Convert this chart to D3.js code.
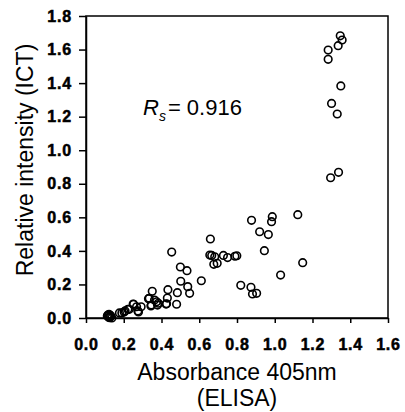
<!DOCTYPE html>
<html>
<head>
<meta charset="utf-8">
<script src="https://cdn.jsdelivr.net/npm/d3@7"></script>
<style>
  body { margin: 0; background: #fff; }
  text { font-family: "Liberation Sans", Arial, sans-serif; }
</style>
</head>
<body>
<div id="chart"></div>
<script>
// absorbance (ELISA) vs relative intensity (ICT)
const elisa = [
  0.113, 0.122, 0.131, 0.137, 0.12, 0.128, 0.116, 0.125,
  0.177, 0.19, 0.202, 0.207, 0.222, 0.229, 0.25, 0.252, 0.268, 0.275, 0.278, 0.292,
  0.331, 0.335, 0.344, 0.346, 0.351, 0.363, 0.374, 0.379, 0.383,
  0.424, 0.427, 0.431, 0.434, 0.454, 0.48, 0.484,
  0.5, 0.502, 0.535, 0.539, 0.549, 0.611,
  0.656, 0.659, 0.666, 0.677, 0.682, 0.695, 0.728, 0.75, 0.789, 0.799,
  0.82, 0.874, 0.877, 0.882, 0.904, 0.92, 0.945, 0.966, 0.983, 0.987,
  1.031, 1.122, 1.148, 1.296, 1.338,
  1.283, 1.283, 1.301, 1.331, 1.336, 1.347, 1.35, 1.357
];
const ict = [
  0.012, 0.022, 0.014, 0.0, 0.005, 0.008, 0.018, 0.002,
  0.03, 0.03, 0.036, 0.042, 0.052, 0.052, 0.083, 0.082, 0.067, 0.042, 0.036, 0.067,
  0.115, 0.117, 0.072, 0.077, 0.159, 0.107, 0.097, 0.077, 0.088,
  0.083, 0.085, 0.119, 0.169, 0.393, 0.082, 0.151,
  0.304, 0.219, 0.282, 0.187, 0.147, 0.222,
  0.375, 0.471, 0.373, 0.32, 0.365, 0.326, 0.373, 0.36, 0.368, 0.371,
  0.195, 0.183, 0.582, 0.143, 0.147, 0.514, 0.401, 0.497, 0.574, 0.604,
  0.256, 0.616, 0.33, 0.836, 0.868,
  1.597, 1.542, 1.279, 1.216, 1.623, 1.682, 1.383, 1.657
];
const xTicks = [0, 0.2, 0.4, 0.6, 0.8, 1.0, 1.2, 1.4, 1.6];
const yTicks = [0, 0.2, 0.4, 0.6, 0.8, 1.0, 1.2, 1.4, 1.6, 1.8];

const points = elisa.map((v, i) => ({ x: v, y: ict[i] }));

let dimensions = {
  width: 405,
  height: 412,
  margin: { top: 16, right: 17, bottom: 94, left: 86 }
};
dimensions.ctrWidth = dimensions.width - dimensions.margin.left - dimensions.margin.right;
dimensions.ctrHeight = dimensions.height - dimensions.margin.top - dimensions.margin.bottom;

const svg = d3.select('#chart')
  .append('svg')
  .attr('width', dimensions.width)
  .attr('height', dimensions.height);

const ctr = svg.append('g')
  .attr('transform', `translate(${dimensions.margin.left}, ${dimensions.margin.top})`);

const xScale = d3.scaleLinear().domain([0, 1.6]).range([0, dimensions.ctrWidth]);
const yScale = d3.scaleLinear().domain([0, 1.8]).range([dimensions.ctrHeight, 0]);

// frame
ctr.append('rect')
  .attr('width', dimensions.ctrWidth)
  .attr('height', dimensions.ctrHeight)
  .attr('fill', 'none')
  .attr('stroke', '#000')
  .attr('stroke-width', 1.5);

const xAxis = ctr.append('g')
  .attr('transform', `translate(0, ${dimensions.ctrHeight})`)
  .call(d3.axisBottom(xScale).tickValues(xTicks).tickFormat(d3.format('.1f')).tickSize(5).tickSizeOuter(0));

const yAxis = ctr.append('g')
  .call(d3.axisLeft(yScale).tickValues(yTicks).tickFormat(d3.format('.1f')).tickSize(7).tickSizeOuter(0));

[xAxis, yAxis].forEach(ax => {
  ax.select('.domain').attr('stroke', '#000').attr('stroke-width', 1.5);
  ax.selectAll('.tick line').attr('stroke', '#000').attr('stroke-width', 1.5);
  ax.selectAll('.tick text')
    .attr('fill', '#000')
    .attr('stroke', '#000')
    .attr('stroke-width', 0.5)
    .style('font-family', '"Liberation Sans", Arial, sans-serif')
    .style('font-size', '16px')
    .style('font-weight', 'bold')
    .style('letter-spacing', '0.8px');
});
xAxis.selectAll('.tick text').attr('y', 20.5).attr('dy', '0.71em');
yAxis.selectAll('.tick text').attr('x', -14);

// points
ctr.selectAll('circle')
  .data(points)
  .join('circle')
  .attr('cx', d => xScale(d.x))
  .attr('cy', d => yScale(d.y))
  .attr('r', 3.8)
  .attr('fill', 'none')
  .attr('stroke', '#000')
  .attr('stroke-width', 1.6);

// annotation
const ann = ctr.append('text')
  .attr('x', 57)
  .attr('y', 99)
  .style('font-size', '22px');
ann.append('tspan').style('font-style', 'italic').text('R');
ann.append('tspan').attr('dy', 6).style('font-size', '14px').style('font-style', 'italic').text('s');
ann.append('tspan').attr('dy', -6).attr('dx', 2).text('= 0.916');

// axis titles
svg.append('text')
  .attr('x', dimensions.margin.left + dimensions.ctrWidth / 2)
  .attr('y', 380)
  .attr('text-anchor', 'middle')
  .style('font-size', '23px')
  .text('Absorbance 405nm');
svg.append('text')
  .attr('x', dimensions.margin.left + dimensions.ctrWidth / 2)
  .attr('y', 406)
  .attr('text-anchor', 'middle')
  .style('font-size', '23px')
  .text('(ELISA)');

svg.append('text')
  .attr('transform', 'translate(33, 160) rotate(-90)')
  .attr('text-anchor', 'middle')
  .style('font-size', '23px')
  .text('Relative intensity (ICT)');
</script>
</body>
</html>
